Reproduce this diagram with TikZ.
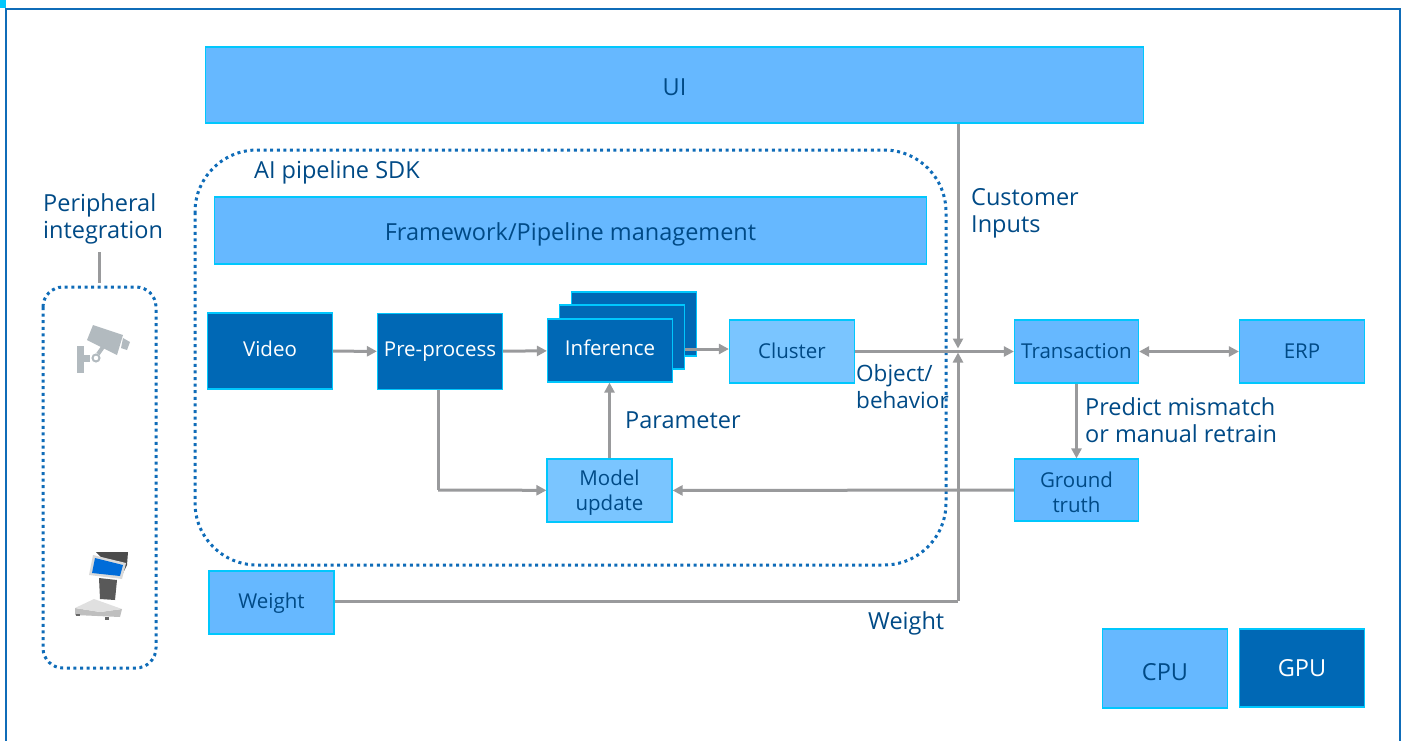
\documentclass[tikz,border=0pt]{standalone}
\usepackage{fontspec}
\setmainfont{Open Sans}
\usepackage{xcolor}
\usetikzlibrary{arrows.meta}

\definecolor{framecol}{HTML}{0F6CB8}
\definecolor{cyancol}{HTML}{00C7FD}
\definecolor{darkcol}{HTML}{0068B5}
\definecolor{midcol}{HTML}{66B8FF}
\definecolor{lightcol}{HTML}{7AC5FF}
\definecolor{textcol}{HTML}{004A86}
\definecolor{flowcol}{HTML}{999A9C}
\definecolor{iconcol}{HTML}{B2BABF}

\newcommand{\shifted}[2]{\raisebox{#1}[0.7em][0.2em]{#2}}
\newcommand{\bigfont}{\fontsize{23.5}{27}\selectfont}

\begin{document}
\begin{tikzpicture}
		[
			x=1pt,y=-1pt,
			every node/.style={font=\fontsize{20.5}{25}\selectfont,text=textcol},
			gpubox/.style={draw=cyancol,line width=1.2pt,fill=darkcol,text=white,inner sep=0pt},
			cpubox/.style={draw=cyancol,line width=1.2pt,fill=midcol,inner sep=0pt,align=center},
			litebox/.style={cpubox,fill=lightcol},
			flow/.style={draw=flowcol,line width=3pt,-{Triangle[length=10pt,width=10pt]}},
			flowline/.style={draw=flowcol,line width=3pt},
			dotted box/.style={draw=framecol,line width=3pt,dash pattern=on 3pt off 3.6pt},
			tag/.style={inner sep=0pt,anchor=west,align=left,font=\bigfont}]
		\useasboundingbox (0,0) rectangle (1405,741);
		% outer frame
		\fill[cyancol] (0,0) rectangle (6,8);
		\draw[framecol,line width=2pt] (6,760) -- (6,9) -- (1400,9) -- (1400,760);
		% dotted groups
		\draw[dotted box,rounded corners=62pt] (195,150) rectangle (946,565);
		\draw[dotted box,rounded corners=20pt] (43,287) rectangle (156,668);
		% blocks
		\node[cpubox,minimum width=938pt,minimum height=76pt] (UI) at (674.5,85) {\bigfont\shifted{-5pt}{UI}};
		\node[cpubox,minimum width=712pt,minimum height=67pt] (Framework) at (570.5,230.5) {\bigfont\shifted{-4pt}{Framework/Pipeline management}};
		\node[gpubox,minimum width=125pt,minimum height=76pt] (Video) at (270,351) {\shifted{0pt}{Video}};
		\node[gpubox,minimum width=125pt,minimum height=76pt] (Preprocess) at (440,351.5) {Pre-process};
		\node[gpubox,minimum width=125pt,minimum height=64pt] (InferenceC) at (634,324) {};
		\node[gpubox,minimum width=125pt,minimum height=64pt] (InferenceB) at (622,337) {};
		\node[gpubox,minimum width=125pt,minimum height=63pt] (Inference) at (610,350.5) {\shifted{0pt}{Inference}};
		\node[litebox,minimum width=125pt,minimum height=63pt] (Cluster) at (792,351.5) {\shifted{-2pt}{Cluster}};
		\node[cpubox,minimum width=124pt,minimum height=63pt] (Transaction) at (1076.5,351.5) {\shifted{-2pt}{Transaction}};
		\node[cpubox,minimum width=125pt,minimum height=63pt] (ERP) at (1302,351.5) {\shifted{-2pt}{ERP}};
		\node[cpubox,minimum width=124pt,minimum height=62pt] (Ground) at (1076.5,490) {\rule{0pt}{20pt}Ground\\truth};
		\node[litebox,minimum width=125pt,minimum height=63pt] (Model) at (609.5,490.5) {\rule{0pt}{20pt}Model\\update};
		\node[cpubox,minimum width=125pt,minimum height=63pt] (WeightBox) at (271.5,602.5) {\shifted{-1pt}{Weight}};
		\node[cpubox,minimum width=125pt,minimum height=79pt] (CPU) at (1165,668.5) {\bigfont\shifted{-6.5pt}{CPU}};
		\node[gpubox,minimum width=125pt,minimum height=78pt] (GPU) at (1302,668) {\bigfont\shifted{-3pt}{GPU}};
		% labels
		\node[tag] (SDK) at (254,172) {AI pipeline SDK};
		\node[tag] (Peripheral) at (43,219) {Peripheral\\integration};
		\node[tag] (Customer) at (971,213.5) {Customer\\Inputs};
		\node[tag,font=\fontsize{22.5}{27}\selectfont] (Object) at (856,386.5) {Object/\\behavior};
		\node[tag] (Parameter) at (625,420.5) {Parameter};
		\node[tag] (Predict) at (1085,420.5) {Predict mismatch\\or manual retrain};
		\node[tag] (WeightTag) at (868,623) {Weight};
		% connectors
		\coordinate (Cross) at (958,351.5);
		\coordinate (PreDown) at (438,490);
		\coordinate (WeightTurn) at (958,601);
		\coordinate (PeriTop) at (99,252);
		\coordinate (PeriEnd) at (99,283);
		\draw[flow] (Video) -- (Preprocess);
		\draw[flow] (Preprocess) -- (Inference);
		\draw[flow] (InferenceB.east |- 0,349) -- (Cluster.west |- 0,349);
		\draw[flow] (Cluster) -- (Transaction);
		\draw[flow] (UI.south -| Cross) -- ([yshift=3pt]Cross);
		\draw[flowline] (WeightBox.east |- WeightTurn) -- (WeightTurn);
		\draw[flow] (WeightTurn) -- ([yshift=-1pt]Cross);
		\draw[{Triangle[length=10pt,width=10pt]}-{Triangle[length=10pt,width=10pt]},draw=flowcol,line width=3pt] (Transaction) -- (ERP);
		\draw[flow] (Transaction) -- (Ground);
		\draw[flow] (Ground) -- (Model);
		\draw[flow] (Model) -- (Model |- Inference.south);
		\draw[flowline] (Preprocess.south -| PreDown) -- (PreDown);
		\draw[flow] (PreDown) -- (Model);
		\draw[flowline] (PeriTop) -- (PeriEnd);
		% camera icon
		\fill[iconcol] (93,325) -- (123,335) -- (117,355) -- (87,340) -- cycle;
		\fill[iconcol] (123,338) -- (130,342) -- (127,350) -- (121,348) -- cycle;
		\fill[iconcol] (77,346) rectangle (84,373);
		\fill[iconcol] (84,355) rectangle (90,362);
		\draw[iconcol,line width=2pt] (96,358) circle (3.5pt);
		\draw[iconcol,line width=4pt] (98,354) -- (103,347);
		% terminal icon
		\fill[black!70] (96,552) -- (128,552) -- (127,565) -- (122,575) -- (116,573) -- cycle;
		\fill[black!65] (99,578) -- (117,580) -- (115,600) -- (100,599) -- cycle;
		\fill[black!25] (75,608) -- (100,612) -- (122,609) -- (120,617) -- (75,615) -- cycle;
		\fill[black!12] (75,608) -- (94,599) -- (122,609) -- (100,612) -- cycle;
		\fill[black!15] (93,555) -- (126,563) -- (122,579) -- (89,575) -- cycle;
		\fill[blue!50!cyan!85!black] (95,558) -- (123,565) -- (120,576) -- (92,573) -- cycle;
		\fill[black!60] (76,614) rectangle (80,616);
		\fill[black!60] (105,617) rectangle (109,620);
	\end{tikzpicture}
\end{document}
